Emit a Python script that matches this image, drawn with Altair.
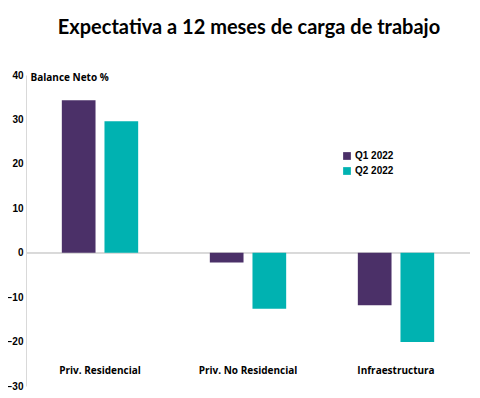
import altair as alt
import pandas as pd

categories = ["Priv. Residencial", "Priv. No Residencial", "Infraestructura"]
series = ["Q1 2022", "Q2 2022"]
q1_values = [34.3, -2.2, -11.8]
q2_values = [29.6, -12.6, -20.1]
y_ticks = [40, 30, 20, 10, 0, -10, -20, -30]

rows = []
for c, a, b in zip(categories, q1_values, q2_values):
    rows.append({"cat": c, "serie": series[0], "val": a})
    rows.append({"cat": c, "serie": series[1], "val": b})
df = pd.DataFrame(rows)

colors = ["#4B3068", "#00B2B1"]

bars = alt.Chart(df).mark_bar().encode(
    x=alt.X("cat:N", sort=categories,
            scale=alt.Scale(paddingInner=0, paddingOuter=0),
            axis=alt.Axis(title=None, orient="bottom", domain=False, ticks=False,
                          labelAngle=0, labelPadding=-21, labelFont="Open Sans",
                          labelFontWeight="bold", labelFontSize=10, labelColor="#000000")),
    xOffset=alt.XOffset("serie:N", sort=series,
                        scale=alt.Scale(paddingInner=0.21, paddingOuter=0.84)),
    y=alt.Y("val:Q", scale=alt.Scale(domain=[-30, 40], nice=False),
            axis=alt.Axis(values=y_ticks, grid=False, ticks=False, domainColor="#D9D9D9",
                          labelPadding=3, labelFont="Liberation Sans", labelFontWeight="bold",
                          labelFontSize=10, labelColor="#000000",
                          title="Balance Neto %", titleAngle=0, titleX=4, titleY=-3,
                          titleAlign="left", titleBaseline="top", titleFont="Open Sans",
                          titleFontSize=10, titleFontWeight="bold", titleColor="#000000")),
    color=alt.Color("serie:N", sort=series, scale=alt.Scale(domain=series, range=colors),
                    legend=alt.Legend(title=None, orient="none", legendX=316, legendY=76,
                                      symbolType="square", symbolSize=60, symbolStrokeWidth=0,
                                      labelFont="Liberation Sans", labelFontWeight="bold",
                                      labelFontSize=10, labelColor="#000000",
                                      rowPadding=5, labelOffset=3)),
)

zero = alt.Chart(df).mark_rule(color="#D9D9D9", strokeWidth=1.5).encode(y=alt.datum(0))

chart = alt.layer(zero, bars).properties(
    width=444, height=311,
    title=alt.Title("Expectativa a 12 meses de carga de trabajo", font="Lato",
                    fontSize=20, fontWeight="bold", color="#000000", anchor="middle",
                    offset=32, dx=1),
    autosize=alt.AutoSizeParams(type="none"),
    padding={"left": 18, "top": 67, "right": 2, "bottom": 10},
).configure_view(stroke=None)

chart.save("out.html", embed_options={"renderer": "svg", "actions": False})
